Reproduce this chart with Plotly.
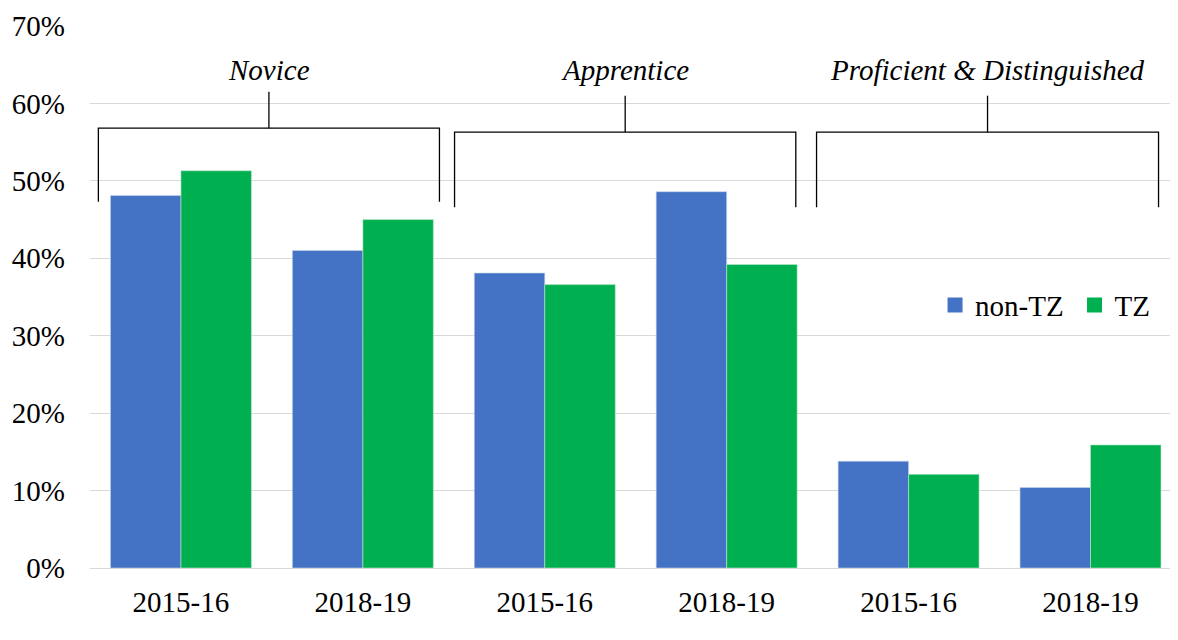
import plotly.graph_objects as go

years = ["2015-16", "2018-19", "2015-16", "2018-19", "2015-16", "2018-19"]
groups = ["Novice", "Apprentice", "Proficient & Distinguished"]
non_tz = [0.481, 0.410, 0.381, 0.486, 0.138, 0.104]
tz = [0.513, 0.450, 0.366, 0.392, 0.121, 0.159]
y_ticks = [0, 0.1, 0.2, 0.3, 0.4, 0.5, 0.6, 0.7]

BLUE = "#4472C4"
GREEN = "#00B050"
FONT = "Liberation Serif"
FS = 29

xpos = list(range(len(years)))

fig = go.Figure()
fig.add_trace(go.Bar(x=xpos, y=non_tz, name="non-TZ", marker=dict(color=BLUE, line=dict(color="#c9d6ee", width=0.6)),
                     showlegend=False))
fig.add_trace(go.Bar(x=xpos, y=tz, name="TZ", marker=dict(color=GREEN, line=dict(color="#bfe8cf", width=0.6)),
                     showlegend=False))
# legend entries (square swatches), one legend box each for exact placement
fig.add_trace(go.Scatter(x=[None], y=[None], mode="markers", name="non-TZ", legend="legend",
                         marker=dict(symbol="square", size=15, color=BLUE)))
fig.add_trace(go.Scatter(x=[None], y=[None], mode="markers", name="TZ", legend="legend2",
                         marker=dict(symbol="square", size=15, color=GREEN)))

# brackets per group: (left offset, right offset, top y, bottom y, tick top y)
bracket_style = [(-0.454, 1.421, 0.568, 0.473, 0.615),
                 (-0.496, 1.380, 0.563, 0.466, 0.610),
                 (-0.506, 1.374, 0.563, 0.466, 0.610)]
for gi, name in enumerate(groups):
    start = gi * 2
    lo, hi, top, bot, ttop = bracket_style[gi]
    x0, x1 = start + lo, start + hi
    xc = (x0 + x1) / 2
    line = dict(color="black", width=1.3)
    fig.add_shape(type="path",
                  path=f"M {x0},{bot} L {x0},{top} L {x1},{top} L {x1},{bot}",
                  xref="x", yref="y", line=line)
    fig.add_shape(type="line", x0=xc, x1=xc, y0=top, y1=ttop, xref="x", yref="y", line=line)
    fig.add_annotation(x=xc, y=0.643, xref="x", yref="y", text=f"<i>{name}</i>",
                       showarrow=False, font=dict(family=FONT, size=FS, color="black"))

legend_common = dict(orientation="h", y=0.485, xanchor="left", yanchor="middle",
                     font=dict(family=FONT, size=FS, color="black"), bgcolor="rgba(0,0,0,0)")

# page body has an 8px margin, so the figure is sized to end at the window edge
fig.update_layout(
    width=1170, height=632,
    margin=dict(l=82, r=0, t=18, b=72),
    plot_bgcolor="white", paper_bgcolor="white",
    barmode="group", bargap=0.225, bargroupgap=0,
    font=dict(family=FONT, size=FS, color="black"),
    legend=dict(x=0.7767, **legend_common),
    legend2=dict(x=0.9049, **legend_common),
    xaxis=dict(range=[-0.5, 5.481], tickvals=xpos, ticktext=years, showgrid=False,
               zeroline=False, showline=False, ticks="", ticklabelstandoff=14, automargin=False,
               tickfont=dict(family=FONT, size=FS, color="black")),
    yaxis=dict(range=[0, 0.7], tickvals=y_ticks, tickformat=".0%", showgrid=True,
               gridcolor="#d9d9d9", gridwidth=1, zeroline=True, zerolinecolor="#d9d9d9",
               zerolinewidth=1, showline=False, ticks="", ticklabelstandoff=24, automargin=False,
               tickfont=dict(family=FONT, size=FS, color="black")),
)

fig.write_html("out.html")
